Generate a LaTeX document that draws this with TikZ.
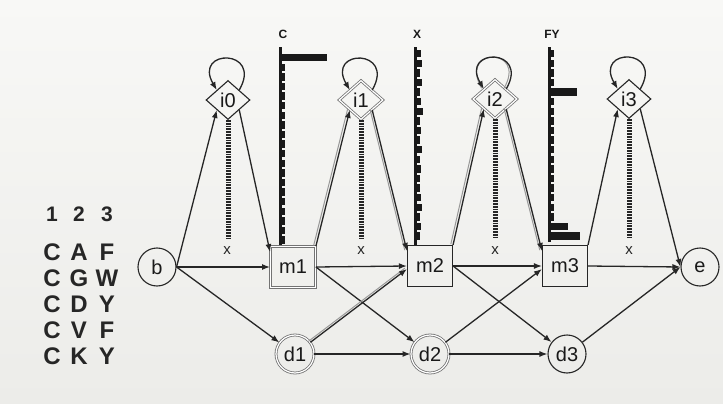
\documentclass[tikz,border=0pt]{standalone}
\usepackage{fontspec}
\setmainfont{Liberation Sans}
\usetikzlibrary{shapes.geometric,arrows.meta}

\begin{document}
\begin{tikzpicture}[x=1pt,y=-1pt,
  lbl/.style={font=\fontsize{20}{20}\selectfont, text=black!90},
  circ/.style={lbl, circle, draw=black!85, line width=1.1pt, minimum size=38pt, inner sep=0pt},
  mbox/.style={lbl, rectangle, draw=black!85, line width=1.1pt, minimum width=45pt, minimum height=41pt, inner sep=0pt},
  ins/.style={lbl, diamond, draw=black!85, line width=1.1pt, minimum width=44pt, minimum height=39pt, inner sep=0pt},
  twin/.style={double=white, double distance=1.2pt, draw=black!55, line width=0.8pt},
  arr/.style={draw=black!85, line width=1.3pt, -{Latex[length=8pt,width=6pt]}},
  echo/.style={preaction={draw=black!40, line width=1pt, -, transform canvas={shift={(-2.2pt,0.8pt)}}}},
  ladder/.style={draw=black!85, line width=5pt, dash pattern=on 1.8pt off 1pt},
  xl/.style={font=\fontsize{15}{15}\selectfont, text=black!85},
  hl/.style={font=\bfseries\fontsize{12}{12}\selectfont, text=black!90},
  seq/.style={font=\bfseries\fontsize{24}{24}\selectfont, text=black!85},
  seqh/.style={font=\bfseries\fontsize{21}{21}\selectfont, text=black!85},
]
% paper
\useasboundingbox (0,0) rectangle (723,404);
\shade[top color={rgb,255:red,248;green,248;blue,246}, bottom color={rgb,255:red,236;green,236;blue,233}] (0,0) rectangle (723,404);

% alignment columns
\node[seqh] (h1) at (52,214) {1};
\node[seqh] (h2) at (79,214) {2};
\node[seqh] (h3) at (107,214) {3};
\foreach \ca/\cb/\cc [count=\r] in {C/A/F, C/G/W, C/D/Y, C/V/F, C/K/Y} {
  \node[seq] (s\r a) at (52,226+26*\r) {\ca};
  \node[seq] (s\r b) at (79,226+26*\r) {\cb};
  \node[seq] (s\r c) at (107,226+26*\r) {\cc};
}

% states
\node[circ] (b) at (157,267) {b};
\node[circ] (e) at (700,267) {e};
\node[mbox, twin] (m1) at (293,267) {m1};
\node[mbox] (m2) at (430,266) {m2};
\node[mbox] (m3) at (565,266) {m3};
\node[circ, twin] (d1) at (295,354) {d1};
\node[circ, twin] (d2) at (430,354) {d2};
\node[circ] (d3) at (567,354) {d3};
\node[ins] (i0) at (228,100) {i0};
\node[ins, twin] (i1) at (361,100) {i1};
\node[ins, twin] (i2) at (495,99) {i2};
\node[ins] (i3) at (629,99) {i3};

% insert-state emission ladders
\foreach \n/\x in {i0/227, i1/361, i2/495, i3/629} {
  \draw[ladder] (\n.south) -- ++(0,118);
  \node[xl] (x\n) at (\x,251) {x};
}

% match-state emission histograms
\fill[black!90] (279,47) rectangle (282,245);
\foreach \w [count=\k from 0] in {45,3,3,3,3,3,3,3,3,3,3,3,3,3,3,3,3,3,3,3}
  \fill[black!90] (282,54+9.6*\k) rectangle ++(\w,7.4);
\node[hl] (hc) at (283,34) {C};

\fill[black!90] (414,47) rectangle (417,245);
\foreach \w [count=\k from 0] in {4,5,3,5,3,4,6,3,4,3,5,3,4,3,3,4,5,3,4,3}
  \fill[black!90] (417,50+9.6*\k) rectangle ++(\w,7.4);
\node[hl] (hx) at (417,34) {X};

\fill[black!90] (548,47) rectangle (551,242);
\foreach \w [count=\k from 0] in {3,3,3,3,26,3,3,3,3,3,3,3,3,3,3,3,3,3,17,29}
  \fill[black!90] (551,50+9.6*\k) rectangle ++(\w,7.4);
\node[hl] (hfy) at (552,34) {FY};

% self loops on insert states
\draw[arr] (i0.north east) .. controls +(60:48pt) and +(120:48pt) .. (i0.north west);
\draw[arr] (i1.north east) .. controls +(60:48pt) and +(120:48pt) .. (i1.north west);
\draw[arr, echo] (i2.north east) .. controls +(60:48pt) and +(120:48pt) .. (i2.north west);
\draw[arr] (i3.north east) .. controls +(60:48pt) and +(120:48pt) .. (i3.north west);

% transitions out of b
\draw[arr] (b.east) -- (i0.south west);
\draw[arr] (b.east) -- (m1.west);
\draw[arr] (b.east) -- (d1);

% column 1
\draw[arr] (i0.south east) -- ([yshift=-6pt]m1.north west);
\draw[arr, echo] (m1.north east) -- (i1.south west);
\draw[arr, echo] (i1.south east) -- ([yshift=-6pt]m2.north west);
\draw[arr] (m1.east) -- (m2.west);
\draw[arr] (m1.east) -- (d2);
\draw[arr, echo] (d1) -- ([yshift=-3pt]m2.west);
\draw[arr] (d1.east) -- (d2.west);

% column 2
\draw[arr, echo] (m2.north east) -- (i2.south west);
\draw[arr, echo] (i2.south east) -- ([yshift=-6pt]m3.north west);
\draw[arr] (m2.east) -- (m3.west);
\draw[arr] (m2.east) -- (d3);
\draw[arr] (d2) -- ([yshift=-3pt]m3.west);
\draw[arr] (d2.east) -- (d3.west);

% column 3
\draw[arr] (m3.north east) -- (i3.south west);
\draw[arr] (i3.south east) -- (e.west);
\draw[arr] (m3.east) -- (e.west);
\draw[arr] (d3) -- (e.west);
\end{tikzpicture}
\end{document}
